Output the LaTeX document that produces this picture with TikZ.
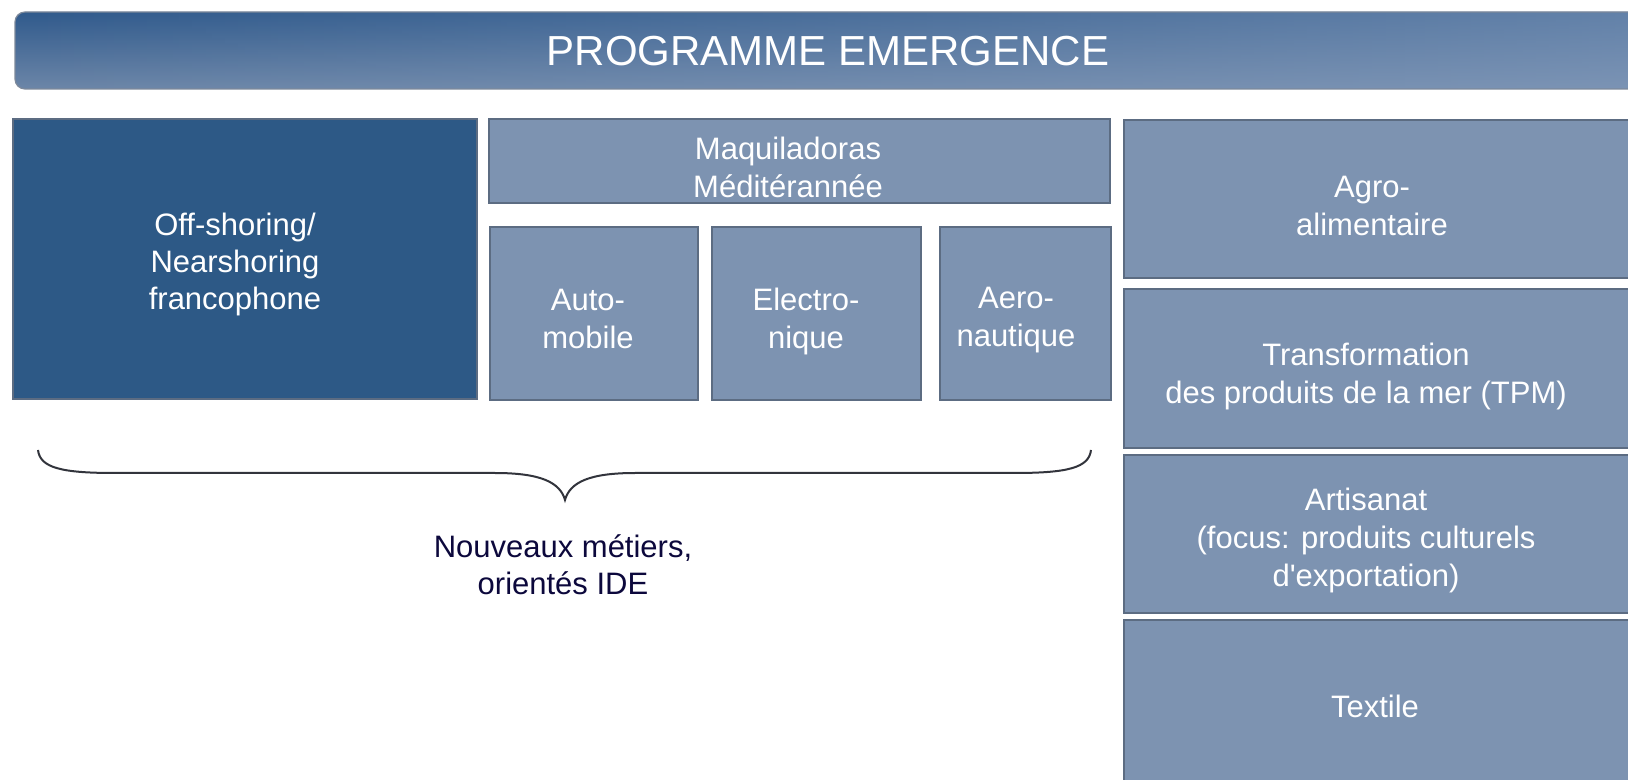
\documentclass[tikz,border=0pt]{standalone}
\usepackage{fontspec}
\setmainfont{Liberation Sans}
\usetikzlibrary{fit,fadings}
\definecolor{darkbox}{RGB}{45,89,134}
\definecolor{lightbox}{RGB}{125,147,177}
\definecolor{boxline}{RGB}{92,108,130}
\definecolor{navytext}{RGB}{12,8,60}
\definecolor{titletop}{RGB}{48,90,140}
\definecolor{titlebot}{RGB}{108,134,168}
\definecolor{titleright}{RGB}{135,158,190}
\definecolor{bracecol}{RGB}{50,52,60}
\begin{document}
\begin{tikzpicture}[x=0.5pt,y=-0.5pt,
  boxbase/.style={inner sep=0pt, draw=boxline, line width=1pt},
  darkfill/.style={boxbase, fill=darkbox},
  lightfill/.style={boxbase, fill=lightbox},
  boxtext/.style={text=white, align=center, inner sep=0pt, font=\fontsize{15.5}{19}\selectfont},
  titletext/.style={text=white, inner sep=0pt, font=\fontsize{21}{25}\selectfont},
  notetext/.style={text=navytext, align=center, inner sep=0pt, font=\fontsize{15.5}{18.5}\selectfont},
  bracestyle/.style={draw=bracecol, line width=1pt}
]
\useasboundingbox (0,0) rectangle (1628,780);
\fill[white] (0,0) rectangle (1628,780);
\clip (0,0) rectangle (1628,780);

% title bar
\shade[top color=titletop, bottom color=titlebot, rounded corners=5pt] (15,12) rectangle (1680,89);
\fill[titleright, path fading=west, fill opacity=0.6, rounded corners=5pt] (15,12) rectangle (1680,89);
\draw[boxline!80, line width=0.6pt, rounded corners=5pt] (15,12) rectangle (1680,89);
\node[titletext] (title) at (828,51) {PROGRAMME EMERGENCE};

% boxes
\node[darkfill, fit={(13,119) (477,399)}] (off) {};
\node[lightfill, fit={(489,119) (1110,203)}] (maq) {};
\node[lightfill, fit={(490,227) (698,400)}] (auto) {};
\node[lightfill, fit={(712,227) (921,400)}] (elec) {};
\node[lightfill, fit={(940,227) (1111,400)}] (aero) {};
\node[lightfill, fit={(1124,120) (1660,278)}] (agro) {};
\node[lightfill, fit={(1124,289) (1660,448)}] (tpm) {};
\node[lightfill, fit={(1124,455) (1660,613)}] (art) {};
\node[lightfill, fit={(1124,620) (1660,800)}] (tex) {};

% box texts
\node[boxtext, font=\fontsize{15.5}{18.5}\selectfont] (offT) at (235,264) {Off-shoring/\\Nearshoring\\francophone};
\node[boxtext] (maqT) at (788,167) {Maquiladoras\\Méditérannée};
\node[boxtext] (autoT) at (588,319) {Auto-\\mobile};
\node[boxtext] (elecT) at (806,321) {Electro-\\nique};
\node[boxtext] (aeroT) at (1016,320.5) {Aero-\\nautique};
\node[boxtext] (agroT) at (1372,206) {Agro-\\alimentaire};
\node[boxtext] (tpmT) at (1366,376) {Transformation\\des produits de la mer (TPM)};
\node[boxtext] (artT) at (1366,540) {Artisanat\\(focus: produits culturels\\d\textquotesingle exportation)};
\node[boxtext] (texT) at (1375,706) {Textile};

% brace
\coordinate (bl) at (38,450);
\coordinate (bt) at (565,500);
\coordinate (br) at (1091,450);
\draw[bracestyle] (bl) .. controls (40,468) and (62,473) .. (115,473) -- (495,473)
  .. controls (540,473) and (560,482) .. (bt)
  .. controls (570,482) and (590,473) .. (635,473) -- (1014,473)
  .. controls (1067,473) and (1089,468) .. (br);
\node[notetext] (note) at (563,565) {Nouveaux métiers,\\orientés IDE};
\end{tikzpicture}
\end{document}
